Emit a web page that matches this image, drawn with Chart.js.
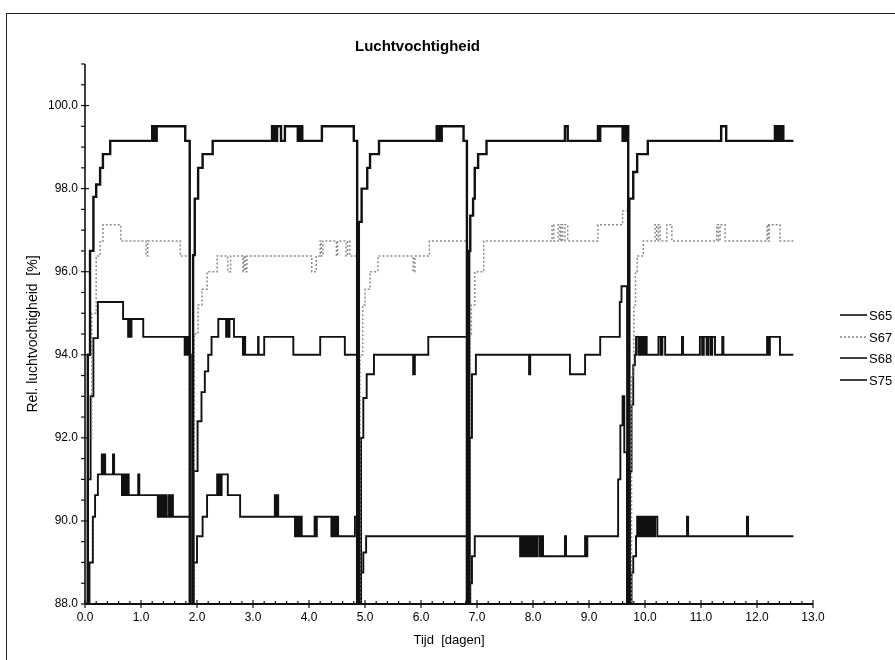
<!DOCTYPE html>
<html>
<head>
<meta charset="utf-8">
<script src="https://cdn.jsdelivr.net/npm/chart.js@4.4.1/dist/chart.umd.min.js"></script>
<style>
  html, body { margin: 0; padding: 0; background: #fff; }
  #wrap { position: relative; width: 895px; height: 660px; overflow: hidden; }
  #frame { position: absolute; left: 6px; top: 13px; width: 900px; height: 660px;
           border-left: 1.5px solid #222; border-top: 1.5px solid #222; }
  #chart { position: absolute; left: 0; top: 0; }
</style>
</head>
<body>
<div id="wrap">
  <div id="frame"></div>
  <canvas id="chart" width="895" height="660"></canvas>
</div>
<script>
/* DATA */
const seriesNames = ["S65", "S67", "S68", "S75"];
const xTickValues = [0, 1, 2, 3, 4, 5, 6, 7, 8, 9, 10, 11, 12, 13];
const yTickValues = [88, 90, 92, 94, 96, 98, 100];

const s65Days = [
  0.00, 0.05, 0.09, 0.15, 0.20, 0.27, 0.32, 0.45, 1.20, 1.22, 1.24, 1.26, 1.28, 1.79, 1.87,
  1.93, 1.96, 2.02, 2.10, 2.28, 3.34, 3.36, 3.38, 3.41, 3.43, 3.50, 3.57, 3.80, 3.82, 3.84, 3.86, 3.88, 4.23, 4.80, 4.86,
  4.89, 4.94, 5.04, 5.09, 5.25, 6.28, 6.30, 6.32, 6.34, 6.37, 6.76, 6.82,
  6.86, 6.88, 6.93, 6.96, 7.02, 7.17, 8.57, 8.62, 9.16, 9.18, 9.20, 9.60, 9.62, 9.65, 9.67, 9.70,
  9.72, 9.79, 9.86, 10.05, 11.36, 11.45, 12.32, 12.35, 12.38, 12.42, 12.44, 12.47, 12.65
];
const s65Values = [
  88.0, 94.0, 96.5, 97.8, 98.1, 98.5, 98.83, 99.15, 99.5, 99.15, 99.5, 99.15, 99.5, 99.15, 88.0,
  96.4, 97.76, 98.5, 98.83, 99.15, 99.5, 99.15, 99.5, 99.15, 99.5, 99.15, 99.5, 99.15, 99.5, 99.15, 99.5, 99.15, 99.5, 99.15, 88.0,
  97.2, 98.0, 98.5, 98.83, 99.15, 99.5, 99.15, 99.5, 99.15, 99.5, 99.15, 88.0,
  96.5, 97.35, 97.76, 98.5, 98.83, 99.15, 99.5, 99.15, 99.5, 99.15, 99.5, 99.15, 99.5, 99.15, 99.5, 88.0,
  97.76, 98.4, 98.83, 99.15, 99.5, 99.15, 99.5, 99.15, 99.5, 99.15, 99.5, 99.15, 99.15
];

const s67Days = [
  0.00, 0.06, 0.12, 0.20, 0.27, 0.32, 0.64, 1.09, 1.12, 1.70, 1.88,
  1.95, 2.02, 2.09, 2.18, 2.36, 2.55, 2.60, 2.82, 2.84, 2.86, 2.89, 4.05, 4.13, 4.20, 4.22, 4.25, 4.49, 4.51, 4.66, 4.69, 4.73, 4.87,
  4.91, 4.96, 5.00, 5.09, 5.23, 5.86, 5.89, 6.15, 6.83,
  6.87, 6.90, 6.96, 7.12, 8.34, 8.37, 8.45, 8.48, 8.50, 8.53, 8.57, 8.62, 9.16, 9.60, 9.70,
  9.76, 9.80, 9.83, 9.86, 9.97, 10.18, 10.21, 10.24, 10.27, 10.39, 10.48, 11.28, 11.31, 11.34, 11.43, 12.18, 12.20, 12.22, 12.41, 12.65
];
const s67Values = [
  88.0, 92.0, 95.0, 96.38, 96.74, 97.13, 96.74, 96.38, 96.74, 96.38, 88.0,
  94.5, 95.2, 95.58, 96.0, 96.38, 96.0, 96.38, 96.0, 96.38, 96.0, 96.38, 96.0, 96.38, 96.74, 96.38, 96.74, 96.38, 96.74, 96.38, 96.74, 96.38, 88.0,
  94.0, 95.2, 95.58, 96.0, 96.38, 96.0, 96.38, 96.74, 88.0,
  94.5, 95.2, 96.0, 96.74, 97.13, 96.74, 97.13, 96.74, 97.13, 96.74, 97.13, 96.74, 97.13, 97.46, 88.0,
  93.5, 95.2, 96.0, 96.38, 96.74, 97.13, 96.74, 97.13, 96.74, 97.13, 96.74, 97.13, 96.74, 97.13, 96.74, 97.13, 96.74, 97.13, 96.74, 96.74
];

const s68Days = [
  0.00, 0.05, 0.10, 0.15, 0.23, 0.68, 0.77, 0.79, 0.81, 0.83, 1.04, 1.78, 1.80, 1.82, 1.84, 1.86, 1.89,
  1.94, 2.01, 2.08, 2.14, 2.20, 2.26, 2.38, 2.52, 2.54, 2.56, 2.58, 2.66, 2.82, 2.84, 2.86, 3.09, 3.10, 3.20, 3.72, 4.20, 4.64, 4.86,
  4.93, 4.97, 5.03, 5.16, 5.86, 5.89, 6.13, 6.83,
  6.87, 6.91, 6.98, 7.93, 7.95, 8.66, 8.93, 9.20, 9.55, 9.58, 9.68,
  9.73, 9.76, 9.79, 9.82, 9.84, 9.88, 9.90, 9.93, 9.95, 9.98, 10.00, 10.03, 10.24, 10.28, 10.31, 10.36, 10.66, 10.68,
  10.98, 11.02, 11.05, 11.10, 11.13, 11.17, 11.20, 11.25, 11.38, 11.40, 12.18, 12.21, 12.23, 12.41, 12.65
];
const s68Values = [
  88.0, 91.0, 93.0, 94.4, 95.27, 94.86, 94.43, 94.86, 94.43, 94.86, 94.43, 94.0, 94.43, 94.0, 94.43, 94.0, 88.0,
  91.2, 92.4, 93.1, 93.6, 94.0, 94.43, 94.86, 94.43, 94.86, 94.43, 94.86, 94.43, 94.0, 94.43, 94.0, 94.43, 94.0, 94.43, 94.0, 94.43, 94.0, 88.0,
  92.0, 92.96, 93.53, 94.0, 93.53, 94.0, 94.43, 88.0,
  92.0, 93.53, 94.0, 93.53, 94.0, 93.53, 94.0, 94.43, 95.27, 95.65, 88.0,
  91.2, 92.8, 93.75, 94.0, 94.43, 94.0, 94.43, 94.0, 94.43, 94.0, 94.43, 94.0, 94.43, 94.0, 94.43, 94.0, 94.43, 94.0,
  94.43, 94.0, 94.43, 94.0, 94.43, 94.0, 94.43, 94.0, 94.43, 94.0, 94.43, 94.0, 94.43, 94.0, 94.0
];

const s75Days = [
  0.00, 0.08, 0.14, 0.18, 0.23, 0.30, 0.32, 0.34, 0.36, 0.50, 0.52, 0.66, 0.68, 0.70, 0.72, 0.74, 0.76, 0.78, 0.95, 0.97,
  1.30, 1.32, 1.35, 1.37, 1.40, 1.43, 1.46, 1.50, 1.53, 1.55, 1.57, 1.88,
  1.94, 2.00, 2.10, 2.18, 2.36, 2.38, 2.40, 2.42, 2.44, 2.55, 2.77, 3.39, 3.41, 3.43, 3.45,
  3.75, 3.77, 3.79, 3.81, 3.83, 3.85, 3.87, 4.10, 4.12, 4.14, 4.40, 4.42, 4.44, 4.46, 4.48, 4.50, 4.52, 4.82, 4.87,
  4.93, 4.97, 5.02, 6.82,
  6.88, 6.91, 6.96, 7.77, 7.79, 7.81, 7.84, 7.87, 7.90, 7.93, 7.96, 7.99, 8.02, 8.05, 8.08, 8.12, 8.15, 8.18,
  8.57, 8.59, 8.93, 8.95, 8.97, 9.52, 9.56, 9.60, 9.63, 9.68,
  9.76, 9.79, 9.84, 9.86, 9.88, 9.90, 9.92, 9.94, 9.97, 10.00, 10.03, 10.06, 10.09, 10.12, 10.15, 10.18, 10.22,
  10.75, 10.77, 11.82, 11.84, 12.65
];
const s75Values = [
  88.0, 89.0, 90.1, 90.62, 91.12, 91.6, 91.12, 91.6, 91.12, 91.6, 91.12, 90.62, 91.12, 90.62, 91.12, 90.62, 91.12, 90.62, 91.12, 90.62,
  90.1, 90.62, 90.1, 90.62, 90.1, 90.62, 90.1, 90.62, 90.1, 90.62, 90.1, 88.0,
  89.0, 89.63, 90.1, 90.62, 91.12, 90.62, 91.12, 90.62, 91.12, 90.62, 90.1, 90.62, 90.1, 90.62, 90.1,
  89.63, 90.1, 89.63, 90.1, 89.63, 90.1, 89.63, 90.1, 89.63, 90.1, 89.63, 90.1, 89.63, 90.1, 89.63, 90.1, 89.63, 90.1, 88.0,
  88.76, 89.24, 89.63, 88.0,
  88.5, 89.15, 89.63, 89.15, 89.63, 89.15, 89.63, 89.15, 89.63, 89.15, 89.63, 89.15, 89.63, 89.15, 89.63, 89.15, 89.63, 89.15,
  89.63, 89.15, 89.63, 89.15, 89.63, 91.0, 92.3, 93.0, 91.65, 88.0,
  88.76, 89.15, 89.63, 90.1, 89.63, 90.1, 89.63, 90.1, 89.63, 90.1, 89.63, 90.1, 89.63, 90.1, 89.63, 90.1, 89.63,
  90.1, 89.63, 90.1, 89.63, 89.63
];

const FONT = "'Liberation Sans', Arial, Helvetica, sans-serif";

function points(days, values) {
  return days.map((d, i) => ({ x: d, y: values[i] }));
}

function series(name, days, values, style) {
  return Object.assign({
    label: name,
    data: points(days, values),
    stepped: "before",
    pointRadius: 0,
    fill: false,
    tension: 0
  }, style);
}

/* axis lines with major + minor ticks, drawn via the chart's scales */
const axisTicks = {
  id: "axisTicks",
  afterDatasetsDraw(chart) {
    const { ctx, scales: { x, y } } = chart;
    const left = x.getPixelForValue(x.min), right = x.getPixelForValue(x.max);
    const top = y.getPixelForValue(y.max), bottom = y.getPixelForValue(y.min);
    ctx.save();
    ctx.strokeStyle = "#111";
    ctx.lineWidth = 1.6;
    ctx.beginPath(); ctx.moveTo(left, top); ctx.lineTo(left, bottom); ctx.stroke();
    ctx.lineWidth = 2;
    ctx.beginPath(); ctx.moveTo(left, bottom); ctx.lineTo(right, bottom); ctx.stroke();
    ctx.lineWidth = 1.2;
    for (let i = 0; i <= (y.max - y.min) * 2; i++) {
      const v = y.min + i / 2;
      const py = y.getPixelForValue(v);
      const major = yTickValues.includes(v);
      ctx.beginPath();
      ctx.moveTo(left - 4, py);
      ctx.lineTo(left + (major ? 4 : 0), py);
      ctx.stroke();
    }
    for (let i = 0; i <= (x.max - x.min) * 5; i++) {
      const v = x.min + i / 5;
      const px = x.getPixelForValue(v);
      const major = i % 5 === 0;
      ctx.beginPath();
      ctx.moveTo(px, bottom + (major ? 4 : 0));
      ctx.lineTo(px, bottom - (major ? 4 : 3));
      ctx.stroke();
    }
    ctx.restore();
  }
};

/* legend sits at the right, partly outside the frame like the scan */
const sideLegend = {
  id: "sideLegend",
  afterDraw(chart) {
    const { ctx } = chart;
    const rows = [315, 337, 358, 380];
    ctx.save();
    ctx.font = "13px " + FONT;
    ctx.textBaseline = "middle";
    ctx.fillStyle = "#000";
    chart.data.datasets.forEach((ds, i) => {
      ctx.strokeStyle = ds.borderColor;
      ctx.lineWidth = 1.6;
      ctx.setLineDash(ds.borderDash || []);
      ctx.beginPath();
      ctx.moveTo(840, rows[i]);
      ctx.lineTo(867, rows[i]);
      ctx.stroke();
      ctx.setLineDash([]);
      ctx.fillText(ds.label, 869, rows[i] + 1);
    });
    ctx.restore();
  }
};

const ctx = document.getElementById("chart").getContext("2d");

new Chart(ctx, {
  type: "line",
  data: {
    datasets: [
      series(seriesNames[0], s65Days, s65Values, { borderColor: "#111", borderWidth: 2.4 }),
      series(seriesNames[1], s67Days, s67Values, { borderColor: "#8a8a8a", borderWidth: 1.5, borderDash: [2, 2] }),
      series(seriesNames[2], s68Days, s68Values, { borderColor: "#111", borderWidth: 1.9 }),
      series(seriesNames[3], s75Days, s75Values, { borderColor: "#111", borderWidth: 1.9 })
    ]
  },
  options: {
    responsive: false,
    animation: false,
    layout: { padding: { left: 22, right: 82, top: 0, bottom: 0 } },
    plugins: {
      legend: { display: false },
      tooltip: { enabled: false },
      title: {
        display: true,
        text: "Luchtvochtigheid",
        color: "#000",
        font: { family: FONT, size: 15, weight: "bold" },
        padding: { top: 38, bottom: 8 }
      }
    },
    scales: {
      x: {
        type: "linear",
        min: 0,
        max: 13,
        afterBuildTicks: s => { s.ticks = xTickValues.map(v => ({ value: v })); },
        afterFit: s => { s.height = 56; },
        grid: { display: false, drawTicks: false },
        border: { display: false },
        ticks: {
          autoSkip: false,
          maxRotation: 0,
          padding: 6,
          color: "#000",
          font: { family: FONT, size: 12 },
          callback: v => v.toFixed(1)
        },
        title: {
          display: true,
          text: "Tijd  [dagen]",
          color: "#000",
          font: { family: FONT, size: 13 },
          padding: { top: 0, bottom: 12 }
        }
      },
      y: {
        min: 88,
        max: 101,
        afterBuildTicks: s => { s.ticks = yTickValues.map(v => ({ value: v })); },
        afterFit: s => { s.width = 63; },
        grid: { display: false, drawTicks: false },
        border: { display: false },
        ticks: {
          padding: 7,
          color: "#000",
          font: { family: FONT, size: 12 },
          callback: v => v.toFixed(1)
        },
        title: {
          display: true,
          text: "Rel. luchtvochtigheid  [%]",
          color: "#000",
          font: { family: FONT, size: 14 },
          padding: { top: 3, bottom: 0 }
        }
      }
    }
  },
  plugins: [axisTicks, sideLegend]
});
</script>
</body>
</html>
